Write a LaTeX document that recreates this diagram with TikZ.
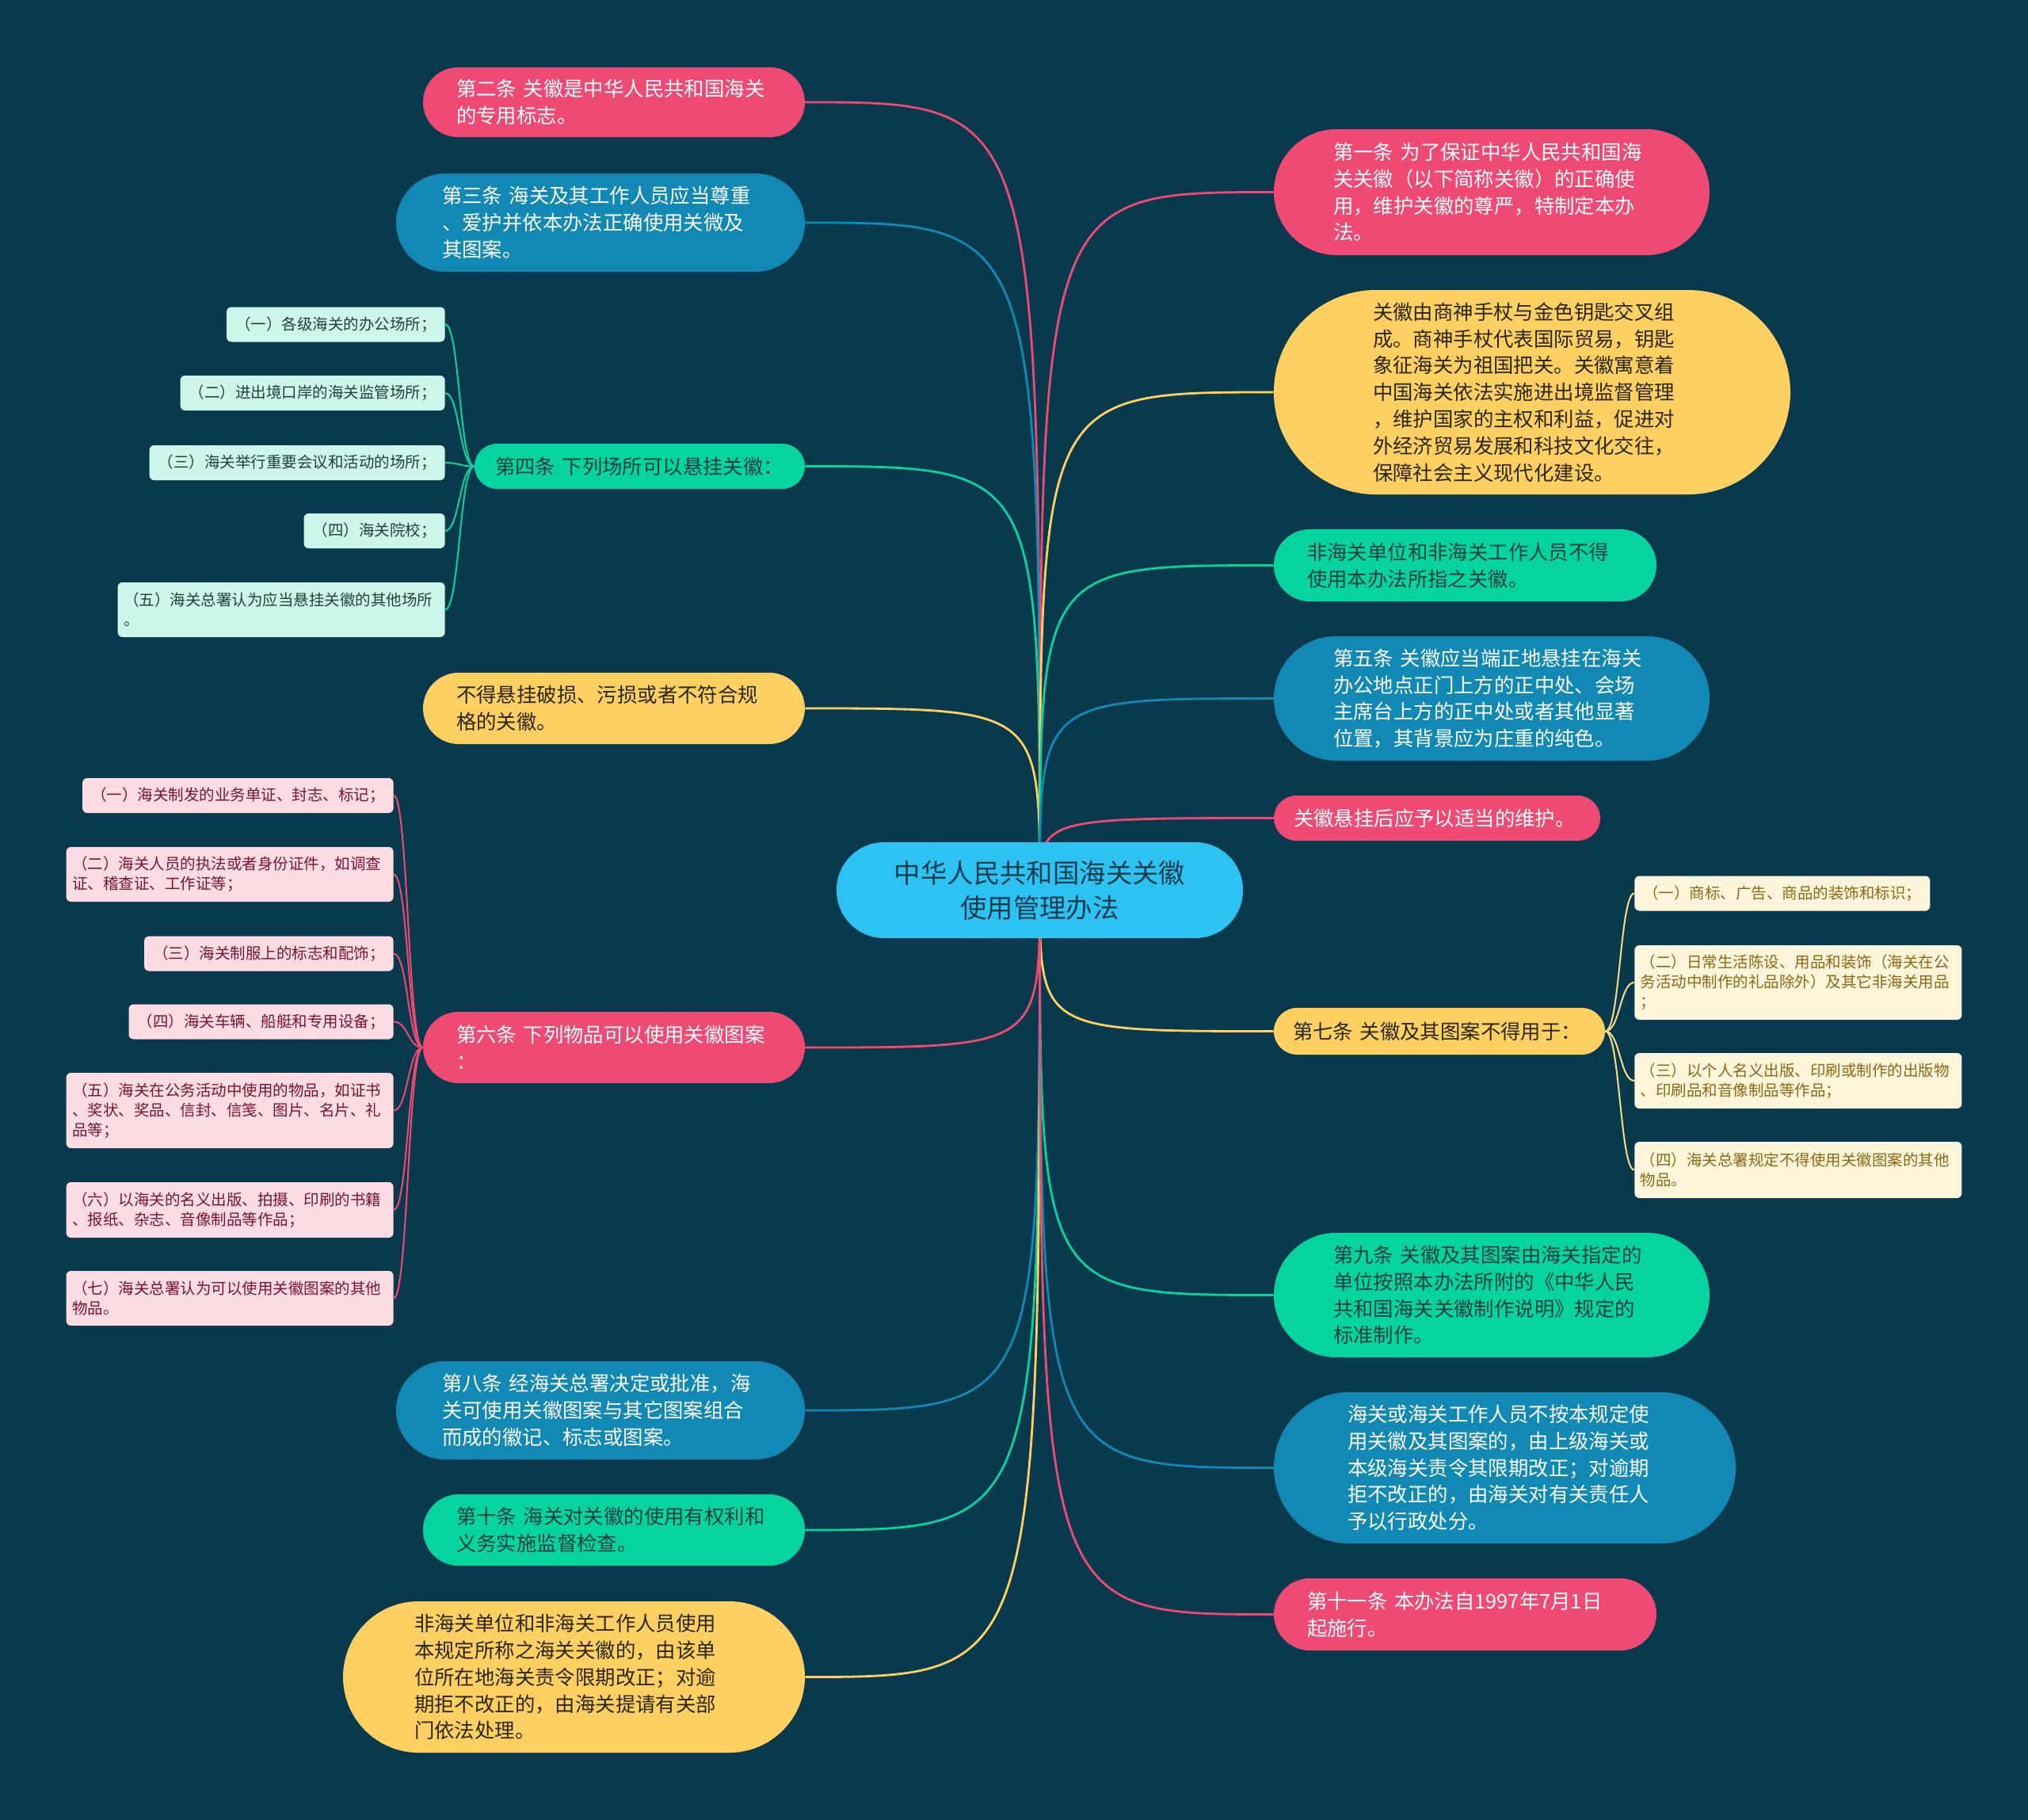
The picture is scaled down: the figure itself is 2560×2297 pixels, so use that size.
\documentclass[tikz,border=0pt]{standalone}
\usepackage{fontspec}
\setmainfont{Noto Sans CJK SC}
\usetikzlibrary{calc}
\pgfdeclarelayer{background}
\pgfsetlayers{background,main}
\definecolor{bg}{HTML}{09394D}
\definecolor{cpink}{HTML}{EE4A73}
\definecolor{cblue}{HTML}{1289B5}
\definecolor{cgreen}{HTML}{06D49E}
\definecolor{cyellow}{HTML}{FED061}
\definecolor{ccenter}{HTML}{2CC3F2}
\definecolor{tgreen}{HTML}{123F45}
\definecolor{tyel}{HTML}{2A2614}
\definecolor{tcenter}{HTML}{163D4F}
\definecolor{kmint}{HTML}{CEF7EC}
\definecolor{kpink}{HTML}{FDDCE4}
\definecolor{kcream}{HTML}{FEF5DB}
\definecolor{tmint}{HTML}{23403E}
\definecolor{tkpink}{HTML}{781434}
\definecolor{tcream}{HTML}{8A6814}
\definecolor{lyel}{HTML}{F4DE86}
\tikzset{
  geo/.style n args={4}{minimum height=#1, inner xsep=#2, text width=#3, rounded corners=#4},
  big/.style={inner ysep=0pt, align=left, font=\fontsize{12.7}{16.9}\selectfont},
  pinkbox/.style={big, fill=cpink, text=white},
  bluebox/.style={big, fill=cblue, text=white},
  greenbox/.style={big, fill=cgreen, text=tgreen},
  yelbox/.style={big, fill=cyellow, text=tyel},
  kid/.style={inner ysep=0pt, inner xsep=5.5pt, align=left, rounded corners=3pt,
              font=\fontsize{9.75}{12.5}\selectfont, minimum height=22pt},
  kidw/.style={kid, text width=199pt, inner xsep=3.75pt},
  mint/.style={kid, fill=kmint, text=tmint},
  kpk/.style={kid, fill=kpink, text=tkpink},
  crm/.style={kid, fill=kcream, text=tcream},
  link/.style={line width=1.4pt},
  sublink/.style={line width=1pt},
}
\begin{document}
\begin{tikzpicture}[x=0.5pt,y=-0.5pt]
\path[use as bounding box] (0,0) rectangle (2560,2297);
\begin{pgfonlayer}{background}
\fill[bg] (0,0) rectangle (2560,2297);
\end{pgfonlayer}

% center
\node[fill=ccenter, text=tcenter, minimum width=256.5pt, minimum height=60.5pt,
      rounded corners=30pt, align=center, inner sep=0pt,
      font=\fontsize{16.7}{22}\selectfont] (c) at (1312.5,1123.5)
  {中华人民共和国海关关徽\\使用管理办法};

% left column
\node[pinkbox, geo={44pt}{21pt}{199pt}{22pt}] (n2) at (775,129)
  {第二条~关徽是中华人民共和国海关\\的专用标志。};
\node[bluebox, geo={62pt}{29pt}{200pt}{31pt}] (n3) at (758,281)
  {第三条~海关及其工作人员应当尊重\\、爱护并依本办法正确使用关微及\\其图案。};
\node[greenbox, geo={28.5pt}{13pt}{182.5pt}{14.25pt}] (n4) at (807.5,588.5)
  {第四条~下列场所可以悬挂关徽：};
\node[yelbox, geo={45pt}{21pt}{199pt}{22.5pt}] (nb) at (775,894)
  {不得悬挂破损、污损或者不符合规\\格的关徽。};
\node[pinkbox, geo={45pt}{21pt}{199pt}{22.5pt}] (n6) at (775,1322)
  {第六条~下列物品可以使用关徽图案\\：};
\node[bluebox, geo={62pt}{29pt}{200pt}{31pt}] (n8) at (758,1780)
  {第八条~经海关总署决定或批准，海\\关可使用关徽图案与其它图案组合\\而成的徽记、标志或图案。};
\node[greenbox, geo={45pt}{21pt}{199pt}{22.5pt}] (n10) at (775,1931)
  {第十条~海关对关徽的使用有权利和\\义务实施监督检查。};
\node[yelbox, geo={95.5pt}{45pt}{201.5pt}{47.75pt}] (nf) at (724.5,2116.5)
  {非海关单位和非海关工作人员使用\\本规定所称之海关关徽的，由该单\\位所在地海关责令限期改正；对逾\\期拒不改正的，由海关提请有关部\\门依法处理。};

% right column
\node[pinkbox, geo={79.5pt}{37.5pt}{200pt}{39.75pt}] (n1) at (1883,242.5)
  {第一条~为了保证中华人民共和国海\\关关徽（以下简称关徽）的正确使\\用，维护关徽的尊严，特制定本办\\法。};
\node[yelbox, geo={129pt}{62.5pt}{201pt}{64.5pt}] (nh) at (1934,495)
  {关徽由商神手杖与金色钥匙交叉组\\成。商神手杖代表国际贸易，钥匙\\象征海关为祖国把关。关徽寓意着\\中国海关依法实施进出境监督管理\\，维护国家的主权和利益，促进对\\外经济贸易发展和科技文化交往，\\保障社会主义现代化建设。};
\node[greenbox, geo={45.5pt}{21pt}{199.5pt}{22.75pt}] (nn) at (1849.5,713.5)
  {非海关单位和非海关工作人员不得\\使用本办法所指之关徽。};
\node[bluebox, geo={78.5pt}{37.5pt}{200pt}{39.25pt}] (n5) at (1883,881.5)
  {第五条~关徽应当端正地悬挂在海关\\办公地点正门上方的正中处、会场\\主席台上方的正中处或者其他显著\\位置，其背景应为庄重的纯色。};
\node[pinkbox, geo={28.5pt}{12.5pt}{181pt}{14.25pt}] (nw) at (1814,1032.5)
  {关徽悬挂后应予以适当的维护。};
\node[yelbox, geo={29.5pt}{12pt}{185pt}{14.75pt}] (n7) at (1817,1301.5)
  {第七条~关徽及其图案不得用于：};
\node[greenbox, geo={78.5pt}{37.5pt}{200pt}{39.25pt}] (n9) at (1883,1634.5)
  {第九条~关徽及其图案由海关指定的\\单位按照本办法所附的《中华人民\\共和国海关关徽制作说明》规定的\\标准制作。};
\node[bluebox, geo={95.5pt}{46.5pt}{198.5pt}{47.75pt}] (nr) at (1899.5,1852.5)
  {海关或海关工作人员不按本规定使\\用关徽及其图案的，由上级海关或\\本级海关责令其限期改正；对逾期\\拒不改正的，由海关对有关责任人\\予以行政处分。};
\node[pinkbox, geo={45.5pt}{21pt}{199.5pt}{22.75pt}] (n11) at (1849.5,2037.5)
  {第十一条~本办法自1997年7月1日\\起施行。};

% children of n4
\node[mint, anchor=east] (a1) at (562,409.5) {（一）各级海关的办公场所；};
\node[mint, anchor=east] (a2) at (562,496) {（二）进出境口岸的海关监管场所；};
\node[mint, anchor=east] (a3) at (562,584) {（三）海关举行重要会议和活动的场所；};
\node[mint, anchor=east] (a4) at (562,670) {（四）海关院校；};
\node[mint, kidw, minimum height=34.5pt, anchor=east] (a5) at (562,769.5)
  {（五）海关总署认为应当悬挂关徽的其他场所\\。};

% children of n6
\node[kpk, anchor=east] (b1) at (497,1004) {（一）海关制发的业务单证、封志、标记；};
\node[kpk, kidw, minimum height=34.5pt, anchor=east] (b2) at (497,1103.5)
  {（二）海关人员的执法或者身份证件，如调查\\证、稽查证、工作证等；};
\node[kpk, anchor=east] (b3) at (497,1203.5) {（三）海关制服上的标志和配饰；};
\node[kpk, anchor=east] (b4) at (497,1289.5) {（四）海关车辆、船艇和专用设备；};
\node[kpk, kidw, minimum height=47.5pt, anchor=east] (b5) at (497,1401.5)
  {（五）海关在公务活动中使用的物品，如证书\\、奖状、奖品、信封、信笺、图片、名片、礼\\品等；};
\node[kpk, kidw, minimum height=35pt, anchor=east] (b6) at (497,1527)
  {（六）以海关的名义出版、拍摄、印刷的书籍\\、报纸、杂志、音像制品等作品；};
\node[kpk, kidw, minimum height=34.5pt, anchor=east] (b7) at (497,1638.5)
  {（七）海关总署认为可以使用关徽图案的其他\\物品。};

% children of n7
\node[crm, anchor=west] (d1) at (2063,1127.5) {（一）商标、广告、商品的装饰和标识；};
\node[crm, kidw, minimum height=47pt, anchor=west] (d2) at (2063,1240)
  {（二）日常生活陈设、用品和装饰（海关在公\\务活动中制作的礼品除外）及其它非海关用品\\；};
\node[crm, kidw, minimum height=35pt, anchor=west] (d3) at (2063,1364)
  {（三）以个人名义出版、印刷或制作的出版物\\、印刷品和音像制品等作品；};
\node[crm, kidw, minimum height=35.5pt, anchor=west] (d4) at (2063,1476.5)
  {（四）海关总署规定不得使用关徽图案的其他\\物品。};

\coordinate (bus4) at ([xshift=-9.25pt]n4.west);
\coordinate (bus6) at ([xshift=-9.25pt]n6.west);
\coordinate (bus7) at ([xshift=9.25pt]n7.east);

\begin{pgfonlayer}{background}
% main connectors, left
\foreach \n/\col in {n2/cpink, n3/cblue, n4/cgreen, nb/cyellow, n6/cpink, n8/cblue, n10/cgreen, nf/cyellow}
  \draw[link, \col] (c.center) .. controls (c.center |- \n.east) .. (\n.east);
% main connectors, right
\foreach \n/\col in {n1/cpink, nh/cyellow, nn/cgreen, n5/cblue, nw/cpink, n7/cyellow, n9/cgreen, nr/cblue, n11/cpink}
  \draw[link, \col] (c.center) .. controls (c.center |- \n.west) .. (\n.west);
% sub connectors
\foreach \k in {a1,a2,a3,a4,a5}
  \draw[sublink, cgreen] (n4.west) .. controls (bus4) and (bus4 |- \k.east) .. (\k.east);
\foreach \k in {b1,b2,b3,b4,b5,b6,b7}
  \draw[sublink, cpink] (n6.west) .. controls (bus6) and (bus6 |- \k.east) .. (\k.east);
\foreach \k in {d1,d2,d3,d4}
  \draw[sublink, lyel] (n7.east) .. controls (bus7) and (bus7 |- \k.west) .. (\k.west);
\end{pgfonlayer}
\end{tikzpicture}
\end{document}
